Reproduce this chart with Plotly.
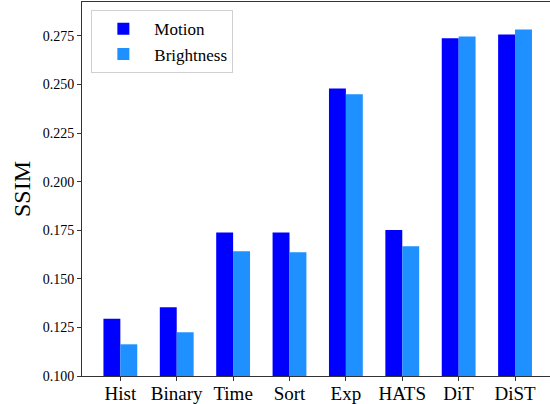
import plotly.graph_objects as go

categories = ["Hist", "Binary", "Time", "Sort", "Exp", "HATS", "DiT", "DiST"]
motion = [0.1295, 0.1354, 0.1738, 0.1738, 0.2479, 0.1751, 0.2737, 0.2757]
brightness = [0.1163, 0.1225, 0.1642, 0.1637, 0.2450, 0.1668, 0.2747, 0.2783]
yticks = [0.100, 0.125, 0.150, 0.175, 0.200, 0.225, 0.250, 0.275]
ytick_text = ["0.100", "0.125", "0.150", "0.175", "0.200", "0.225", "0.250", "0.275"]

xs = list(range(len(categories)))
font = "Liberation Serif, Times New Roman, serif"

fig = go.Figure()
fig.add_trace(go.Bar(x=xs, y=[v - 0.1 for v in motion], base=0.1, name="Motion",
                     marker=dict(color="#0000FF", line=dict(width=0)), width=0.3, offset=-0.3))
fig.add_trace(go.Bar(x=xs, y=[v - 0.1 for v in brightness], base=0.1, name="Brightness",
                     marker=dict(color="#1E90FF", line=dict(width=0)), width=0.3, offset=0.0))

fig.update_layout(
    width=550, height=404,
    margin=dict(l=82, r=0, t=2, b=28, autoexpand=False),
    plot_bgcolor="white", paper_bgcolor="white",
    font=dict(family=font, color="black"),
    barmode="overlay",
    showlegend=True,
    legend=dict(x=0.02, y=0.978, xanchor="left", yanchor="top",
                bgcolor="white", bordercolor="#d0d0d0", borderwidth=1,
                font=dict(family=font, size=17), itemwidth=52,
                tracegroupgap=0),
    xaxis=dict(range=[-0.68, 7.62], tickmode="array", tickvals=xs, ticktext=categories,
               showline=True, linecolor="#333", linewidth=1, mirror=True,
               ticks="outside", ticklen=4, tickcolor="#333", showgrid=False, zeroline=False,
               ticklabelstandoff=-4,
               tickfont=dict(family=font, size=19)),
    yaxis=dict(range=[0.1, 0.2924], tickmode="array", tickvals=yticks, ticktext=ytick_text,
               showline=True, linecolor="#333", linewidth=1,
               ticks="outside", ticklen=4, tickcolor="#333", showgrid=False, zeroline=False,
               tickfont=dict(family=font, size=14),
               title=dict(text="SSIM", font=dict(family=font, size=24), standoff=5)),
)

fig.write_html("out.html", config={"displayModeBar": False},
               post_script="document.body.style.margin='0';")
